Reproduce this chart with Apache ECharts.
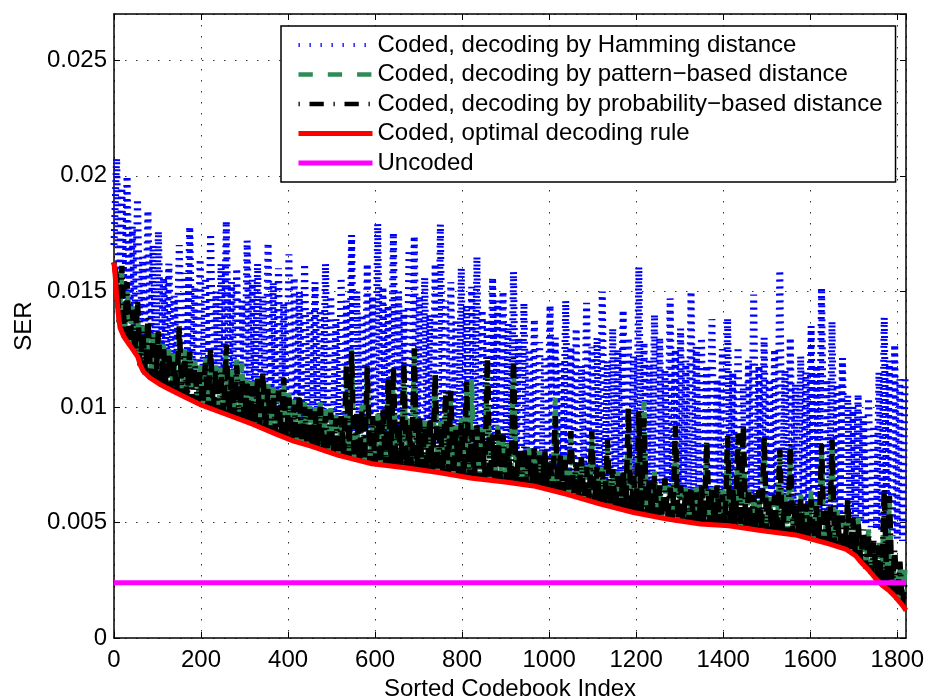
<!DOCTYPE html>
<html>
<head>
<meta charset="utf-8">
<script src="https://cdn.jsdelivr.net/npm/echarts@6.0.0/dist/echarts.min.js"></script>
<style>
html,body{margin:0;padding:0;background:#ffffff;}
#chart{width:926px;height:698px;}
</style>
</head>
<body>
<div id="chart"></div>
<script>
// ---------------- DATA ----------------
const FONT = '"Liberation Sans", Arial, Helvetica, sans-serif';
const X_MAX = 1820;
const X_STEP = 6;            // codebook-index spacing of the sampled noisy series
const UNIT = 1e-5;           // SER values below are written in units of 1e-5

const xTickValues = [0, 200, 400, 600, 800, 1000, 1200, 1400, 1600, 1800];
const yTickValues = [0, 0.005, 0.01, 0.015, 0.02, 0.025];
const yTickLabels = ['0', '0.005', '0.01', '0.015', '0.02', '0.025'];

const seriesNames = [
  'Coded, decoding by Hamming distance',
  'Coded, decoding by pattern\u2212based distance',
  'Coded, decoding by probability\u2212based distance',
  'Coded, optimal decoding rule',
  'Uncoded'
];

// Hamming-distance decoding (blue dotted), x = 0, 6, 12, ...
const hammingSER = [
1700,2076,1480,1950,1400,2000,1380,1780,1350,1900,1300,1650,
1270,1850,1250,1700,1230,1760,1220,1560,1200,1620,1190,1480,
1180,1700,1170,1580,1160,1780,1150,1520,1140,1640,1130,1560,
1110,1750,1100,1500,1090,1620,1085,1805,1075,1540,1065,1600,
1055,1460,1045,1720,1040,1550,1030,1620,1020,1480,1010,1710,
1000,1540,990,1600,985,1450,975,1660,965,1560,960,1500,
950,1620,945,1420,940,1540,930,1420,925,1620,918,1480,
910,1380,900,1560,895,1460,890,1744,885,1500,880,1400,
872,1620,868,1480,862,1793,860,1520,856,1440,854,1754,
852,1500,850,1420,848,1680,845,1740,842,1480,840,1560,
836,1400,834,1620,830,1790,825,1460,820,1540,816,1380,
812,1600,808,1440,804,1520,800,1650,796,1420,794,1380,
792,1560,790,1460,788,1500,785,1360,782,1585,778,1300,
775,1450,772,1250,768,1380,764,1280,758,1220,752,1440,
746,1300,740,1200,736,1460,730,1260,724,1340,718,1180,
712,1450,706,1260,700,1300,692,1499,686,1200,680,1340,
675,1250,670,1420,664,1300,660,1220,655,1606,650,1280,
646,1200,642,1400,638,1300,634,1160,630,1470,626,1250,
622,1340,618,1200,615,1500,612,1260,608,1300,606,1180,
605,1380,604,1120,603,1250,602,1384,600,1150,597,1260,
594,1100,591,1200,588,1486,585,1180,582,1300,580,1120,
577,1250,574,1592,571,1160,568,1300,566,1100,562,1220,
558,1150,554,1350,550,1180,546,1516,542,1120,538,1370,
534,1100,530,1211,526,1050,520,1000,510,1055,500,960,
490,1039,480,920,470,1150,460,1387,450,1200,440,1270,
430,1120,420,1140
];

// pattern-based distance decoding (green dashed)
const patternSER = [
1625,1540,1365,1580,1296,1500,1263,1440,1233,1420,1178,1350,
1138,1340,1119,1320,1105,1300,1090,1270,1078,1250,1066,1230,
1055,1320,1044,1250,1033,1230,1022,1200,1011,1180,1001,1210,
992,1230,984,1180,975,1170,967,1240,958,1160,950,1205,
941,1190,933,1120,925,1110,916,1140,907,1130,898,1100,
888,1090,878,1090,869,1100,861,1060,852,1030,844,1039,
837,1020,830,1010,822,1000,815,1020,807,990,800,995,
792,970,785,930,779,1150,773,1250,768,950,762,1010,
757,1160,751,930,747,970,744,960,742,1100,739,1140,
736,910,734,1180,731,950,727,1240,724,920,721,940,
718,930,715,1130,712,940,707,1050,703,1040,699,920,
695,950,692,1080,688,1120,685,890,682,910,680,1200,
677,850,675,920,673,850,670,840,667,1190,664,780,
661,800,658,820,654,790,649,810,643,780,638,760,
632,1039,626,760,621,790,615,870,609,740,602,750,
596,760,589,870,582,710,575,740,569,830,563,700,
558,720,552,690,546,980,541,670,536,960,532,1025,
527,650,523,720,518,640,514,660,510,670,506,900,
503,630,499,660,496,620,492,650,489,630,487,840,
486,660,484,630,483,640,481,860,480,610,476,870,
473,900,469,650,466,600,463,610,459,860,457,620,
454,600,451,800,448,620,446,820,443,570,438,620,
432,560,427,637,420,590,414,820,408,540,401,840,
394,560,388,510,381,590,366,500,351,520,325,450,
300,470,276,400,249,420,226,630,208,600,189,360,
164,306,136,300
];

// probability-based distance decoding (black dash-dot)
const probabilitySER = [
1625,1560,1367,1610,1298,1540,1265,1420,1235,1464,1180,1330,
1140,1384,1121,1300,1107,1326,1092,1250,1080,1230,1068,1200,
1057,1348,1046,1220,1035,1240,1024,1180,1013,1150,1003,1190,
994,1254,986,1160,977,1150,969,1270,960,1130,952,1180,
943,1120,935,1100,927,1090,918,1120,909,1154,900,1080,
890,1060,880,1070,871,1125,863,1040,854,1010,846,1060,
839,1000,832,990,824,980,817,1000,809,960,802,975,
794,950,787,960,781,1184,775,1240,770,980,764,990,
759,1175,753,960,749,950,746,990,744,1120,741,1175,
738,940,736,1197,733,930,729,1254,726,950,723,920,
720,960,717,1147,714,920,709,1068,705,1070,701,900,
697,930,694,1111,690,900,687,920,684,890,682,1219,
679,880,677,900,675,880,672,820,669,1211,666,810,
663,830,660,800,656,820,651,790,645,810,640,780,
634,960,628,790,623,770,617,895,611,760,604,780,
598,740,591,895,584,740,577,720,571,860,565,730,
560,700,554,720,548,996,543,700,538,981,534,950,
529,680,525,700,520,660,516,690,512,650,508,917,
505,660,501,640,498,650,494,630,491,660,489,852,
488,640,486,660,485,620,483,874,482,640,478,882,
475,924,471,630,468,620,465,640,461,874,459,600,
456,620,453,818,450,600,448,839,445,590,440,600,
434,580,429,600,422,570,416,839,410,560,403,860,
396,540,390,530,383,602,368,520,353,500,327,470,
302,450,278,420,251,400,228,645,210,615,191,380,
166,330,138,250
];

// optimal decoding rule (red), read at these codebook indices
const optimalIndex = [0,3,6,10,14,20,25,41,55,60,67,83,106,144,198,259,320,374,413,451,
  516,593,669,746,823,899,964,1041,1118,1194,1271,1348,1413,1490,1566,1589,1643,1681,
  1704,1720,1735,1751,1766,1781,1796,1812,1820];
const optimalSER = [1625,1560,1484,1400,1341,1315,1297,1254,1215,1183,1154,1125,1097,1060,1010,967,924,881,852,831,
  790,754,737,716,691,675,658,622,579,543,515,493,486,464,446,435,407,385,
  356,321,292,256,227,206,177,141,119];

// uncoded (magenta), constant
const uncodedSER = 239;

// ---------------- BUILD ----------------
const sampled = arr => arr.map((v, i) => [i * X_STEP, v * UNIT]);
const optimalData = optimalIndex.map((x, i) => [x, optimalSER[i] * UNIT]);
const uncodedData = [[0, uncodedSER * UNIT], [X_MAX, uncodedSER * UNIT]];

const gridStyle = { color: '#333', width: 1, type: [1.5, 9.5] };
const axisLineStyle = { color: '#000', width: 1.5 };

function xLabel(v) {
  const r = Math.round(v);
  return (Math.abs(v - r) < 1e-6 && xTickValues.indexOf(r) >= 0) ? String(r) : '';
}
function yLabel(v) {
  for (let i = 0; i < yTickValues.length; i++) {
    if (Math.abs(v - yTickValues[i]) < 1e-9) return yTickLabels[i];
  }
  return '';
}

const lineBase = { type: 'line', symbol: 'none', showSymbol: false, animation: false, clip: true, silent: true };

const option = {
  animation: false,
  backgroundColor: '#ffffff',
  grid: { left: 114, right: 20, top: 14, bottom: 60, containLabel: false, outerBoundsMode: 'none' },
  xAxis: [{
    type: 'value', min: 0, max: X_MAX, interval: 200, position: 'bottom',
    name: 'Sorted Codebook Index', nameLocation: 'middle', nameGap: 38,
    nameTextStyle: { fontFamily: FONT, fontSize: 24, color: '#000' },
    axisLine: { show: true, onZero: false, lineStyle: axisLineStyle },
    axisTick: { show: true, inside: true, length: 6, lineStyle: { color: '#000', width: 1 } },
    axisLabel: { show: true, margin: 10, fontFamily: FONT, fontSize: 24, color: '#000', formatter: xLabel, showMaxLabel: false, hideOverlap: false },
    splitLine: { show: true, lineStyle: gridStyle }
  }, {
    type: 'value', min: 0, max: X_MAX, interval: 200, position: 'top',
    axisLine: { show: true, onZero: false, lineStyle: axisLineStyle },
    axisTick: { show: true, inside: true, length: 6, lineStyle: { color: '#000', width: 1 } },
    axisLabel: { show: false }, splitLine: { show: false }
  }],
  yAxis: [{
    type: 'value', min: 0, max: 0.027, interval: 0.005, position: 'left',
    name: 'SER', nameLocation: 'middle', nameGap: 78,
    nameTextStyle: { fontFamily: FONT, fontSize: 24, color: '#000' },
    axisLine: { show: true, onZero: false, lineStyle: axisLineStyle },
    axisTick: { show: true, inside: true, length: 6, lineStyle: { color: '#000', width: 1 } },
    axisLabel: { show: true, margin: 7, fontFamily: FONT, fontSize: 24, color: '#000', formatter: yLabel, showMaxLabel: false, hideOverlap: false },
    splitLine: { show: true, lineStyle: gridStyle }
  }, {
    type: 'value', min: 0, max: 0.027, interval: 0.005, position: 'right',
    axisLine: { show: true, onZero: false, lineStyle: axisLineStyle },
    axisTick: { show: true, inside: true, length: 6, lineStyle: { color: '#000', width: 1 } },
    axisLabel: { show: false }, splitLine: { show: false }
  }],
  legend: {
    show: true, orient: 'vertical', left: 281, top: 26,
    backgroundColor: '#ffffff', borderColor: '#000', borderWidth: 1.5, borderRadius: 0,
    padding: [7, 13, 7, 15],
    itemWidth: 74, itemHeight: 14, itemGap: 5.5,
    selectedMode: false,
    itemStyle: { opacity: 0 },
    lineStyle: { width: 'inherit', type: 'inherit', opacity: 1 },
    textStyle: { fontFamily: FONT, fontSize: 24, color: '#000', lineHeight: 24 },
    data: [
      { name: seriesNames[0], lineStyle: { width: 4, type: [1.3, 9.7] } },
      { name: seriesNames[1], lineStyle: { width: 4.5, type: [14.3, 15] } },
      { name: seriesNames[2], lineStyle: { width: 4.5, type: [1.3, 9.7, 14.3, 9.7] } },
      { name: seriesNames[3], lineStyle: { width: 5 } },
      { name: seriesNames[4], lineStyle: { width: 5 } }
    ]
  },
  series: [
    Object.assign({}, lineBase, {
      name: seriesNames[0], data: sampled(hammingSER), z: 2,
      lineStyle: { color: '#0000ff', width: 7, type: [2, 5], cap: 'butt' },
      itemStyle: { color: '#0000ff' }
    }),
    Object.assign({}, lineBase, {
      name: seriesNames[1], data: sampled(patternSER), z: 3,
      lineStyle: { color: '#2e8b57', width: 5, type: [14, 6], cap: 'butt' },
      itemStyle: { color: '#2e8b57' }
    }),
    Object.assign({}, lineBase, {
      name: seriesNames[2], data: sampled(probabilitySER), z: 4,
      lineStyle: { color: '#000000', width: 5.5, type: [1.6, 5, 14, 5], cap: 'butt' },
      itemStyle: { color: '#000000' }
    }),
    Object.assign({}, lineBase, {
      name: seriesNames[3], data: optimalData, z: 5,
      lineStyle: { color: '#ff0000', width: 5, type: 'solid' },
      itemStyle: { color: '#ff0000' }
    }),
    Object.assign({}, lineBase, {
      name: seriesNames[4], data: uncodedData, z: 6,
      lineStyle: { color: '#ff00ff', width: 5, type: 'solid' },
      itemStyle: { color: '#ff00ff' }
    })
  ]
};

const chart = echarts.init(document.getElementById('chart'), null, { renderer: 'canvas' });
chart.setOption(option);
</script>
</body>
</html>
